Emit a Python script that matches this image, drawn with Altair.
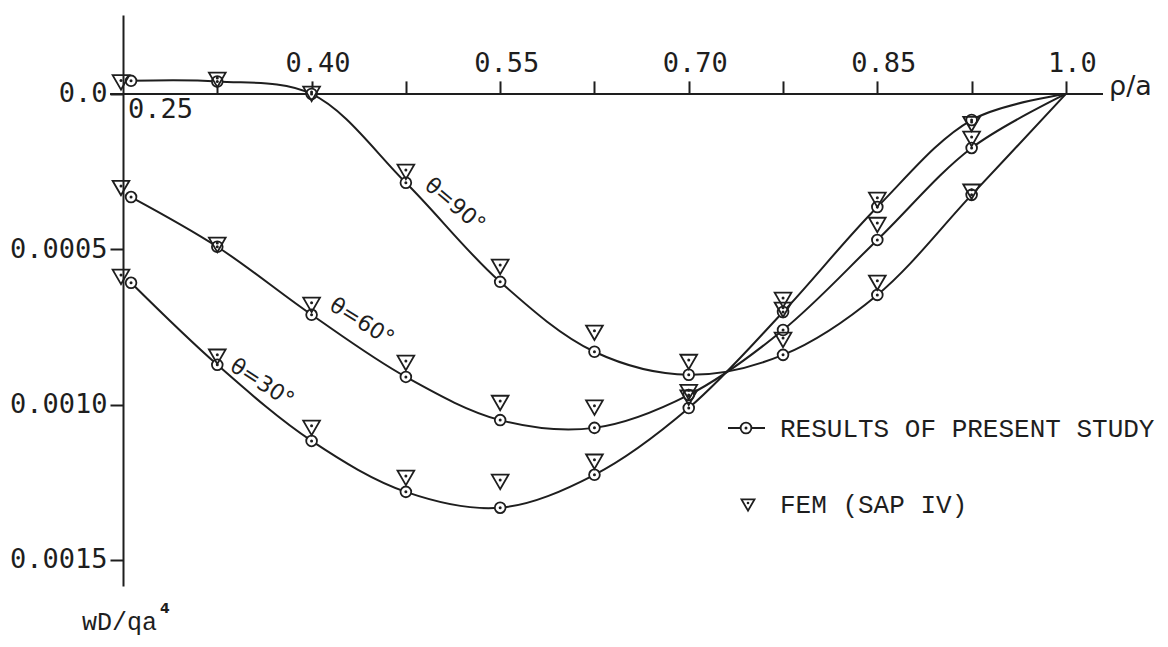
import altair as alt
import pandas as pd

INK = "#1e1e1e"

# ---------------- data ----------------
rho = [0.25, 0.325, 0.40, 0.475, 0.55, 0.625, 0.70, 0.775, 0.85, 0.925, 1.0]
present_30 = [0.000608, 0.000872, 0.001117, 0.001281, 0.001332, 0.001226, 0.001011, 0.000702, 0.000364, 0.000084, 0.0]
present_60 = [0.000332, 0.000492, 0.000711, 0.000911, 0.001050, 0.001075, 0.000969, 0.000760, 0.000470, 0.000174, 0.0]
present_90 = [-0.000042, -0.000040, 0.0, 0.000286, 0.000605, 0.000830, 0.000904, 0.000840, 0.000647, 0.000325, 0.0]

fem_rho = [0.25, 0.325, 0.40, 0.475, 0.55, 0.625, 0.70, 0.775, 0.85, 0.925]
fem_30 = [0.000589, 0.000846, 0.001075, 0.001236, 0.001249, 0.001184, 0.000978, 0.000663, 0.000341, 0.000097]
fem_60 = [0.000303, 0.000486, 0.000679, 0.000866, 0.000995, 0.001010, 0.000960, 0.000695, 0.000422, 0.000145]
fem_90 = [-0.000037, -0.000045, 0.0, 0.000251, 0.000557, 0.000769, 0.000863, 0.000792, 0.000608, 0.000315]

thetas = ["30", "60", "90"]
curve_labels = ["θ=30°", "θ=60°", "θ=90°"]
label_rho = [0.3606, 0.440, 0.514]
label_val = [0.000930, 0.000734, 0.000357]
label_angle = [33, 32, 40]

x_ticks = [0.325, 0.4, 0.475, 0.55, 0.625, 0.7, 0.775, 0.85, 0.925, 1.0]
x_labeled = [0.4, 0.55, 0.7, 0.85]
y_ticks = [0.0, 0.0005, 0.001, 0.0015]

x_axis_label = "ρ/a"
y_axis_label = "wD/qa"
y_axis_sup = "4"
legend_present = "RESULTS OF PRESENT STUDY"
legend_fem = "FEM (SAP IV)"

# ---------------- layout constants ----------------
X_DOMAIN = [0.25, 1.0295]
Y_DOMAIN = [-0.000254, 0.001584]
AXIS_LINE_LEFT = 0.2397
CIRCLE_FIRST_SHIFT = 0.0064   # first markers drawn displaced off the axis, as in the figure
TRI_FIRST_SHIFT = -0.0016
W, H = 980, 571
# pixel row of the zero line inside the plot area (where the rho axis sits)
ZERO_ROW = H * (0.0 - Y_DOMAIN[0]) / (Y_DOMAIN[1] - Y_DOMAIN[0])

# ---------------- tables ----------------
present = {"30": present_30, "60": present_60, "90": present_90}
fem = {"30": fem_30, "60": fem_60, "90": fem_90}

rows = []
for t in thetas:
    for i, (r, v) in enumerate(zip(rho, present[t])):
        rows.append({"rho": r + (CIRCLE_FIRST_SHIFT if i == 0 else 0.0), "val": v, "theta": t, "end": r == 1.0})
line_df = pd.DataFrame(rows)
circ_df = line_df[~line_df["end"]].copy()

trows = []
for t in thetas:
    for i, (r, v) in enumerate(zip(fem_rho, fem[t])):
        trows.append({"rho": r + (TRI_FIRST_SHIFT if i == 0 else 0.0), "val": v, "theta": t})
tri_df = pd.DataFrame(trows)

lab_df = pd.DataFrame({"rho": label_rho, "val": label_val, "text": curve_labels, "angle": label_angle})
axis_df = pd.DataFrame({"x1": [AXIS_LINE_LEFT], "x2": [X_DOMAIN[1]], "y": [0.0], "x0": [0.25]})
one = pd.DataFrame({"k": [0]})

# ---------------- scales / axes ----------------
xscale = alt.Scale(domain=X_DOMAIN, nice=False, zero=False)
yscale = alt.Scale(domain=Y_DOMAIN, nice=False, zero=False, reverse=True)

lab_list = ", ".join(str(v) for v in x_labeled)
x_label_expr = (
    "datum.value == 1 ? '1.0' : (indexof([" + lab_list + "], datum.value) >= 0 ? format(datum.value, '.2f') : '')"
)
xaxis = alt.Axis(
    orient="top", values=x_ticks, labelExpr=x_label_expr, offset=-ZERO_ROW,
    domain=False, grid=False, ticks=True, tickSize=13, tickWidth=2, tickColor=INK,
    labelFont="DejaVu Sans Mono", labelFontSize=27, labelColor=INK, labelPadding=3,
    labelOffset=6, labelOverlap=False, labelFlush=False, title=None,
)
yaxis = alt.Axis(
    orient="left", values=y_ticks,
    labelExpr="datum.value == 0 ? '0.0' : format(datum.value, '.4f')",
    domain=True, domainColor=INK, domainWidth=2, grid=False,
    tickSize=13, tickWidth=2, tickColor=INK,
    labelFont="DejaVu Sans Mono", labelFontSize=27, labelColor=INK, labelPadding=3,
    labelOverlap=False, labelFlush=False, title=None,
)


def X(f):
    return alt.X(f, type="quantitative", scale=xscale, axis=xaxis)


def Y(f):
    return alt.Y(f, type="quantitative", scale=yscale, axis=yaxis)


# ---------------- layers ----------------
x_line = alt.Chart(axis_df).mark_rule(color=INK, strokeWidth=2).encode(
    x=X("x1"), x2="x2:Q", y=Y("y")
)

curves = alt.Chart(line_df).mark_line(
    interpolate="catmull-rom", color=INK, strokeWidth=2
).encode(x=X("rho"), y=Y("val"), detail="theta:N", order="rho:Q")

circles = alt.Chart(circ_df).mark_point(
    shape="circle", size=115, filled=True, fill="white", stroke=INK, strokeWidth=1.8, opacity=1
).encode(x=X("rho"), y=Y("val"))

circle_dots = alt.Chart(circ_df).mark_point(
    shape="circle", size=9, filled=True, color=INK, opacity=1
).encode(x=X("rho"), y=Y("val"))

triangles = alt.Chart(tri_df).mark_point(
    shape="triangle-down", size=280, filled=False, stroke=INK, strokeWidth=1.8, opacity=1
).encode(x=X("rho"), y=Y("val"))

tri_dots = alt.Chart(tri_df).mark_point(
    shape="circle", size=9, filled=True, color=INK, opacity=1
).encode(x=X("rho"), y=Y("val"), yOffset=alt.value(-2))

curve_text = alt.Chart(lab_df).mark_text(
    font="DejaVu Sans", fontSize=22, color=INK, align="center", baseline="middle"
).encode(x=X("rho"), y=Y("val"), text="text:N", angle=alt.Angle("angle:Q", scale=None))

rho_label = alt.Chart(axis_df).mark_text(
    font="DejaVu Sans", fontSize=27, color=INK, align="left", baseline="alphabetic", dx=6, dy=1
).encode(x=X("x2"), y=Y("y"), text=alt.value(x_axis_label))

origin_label = alt.Chart(axis_df).mark_text(
    font="DejaVu Sans Mono", fontSize=27, color=INK, align="left", baseline="top", dx=5, dy=3
).encode(x=X("x0"), y=Y("y"), text=alt.value("0.25"))

# legend (pixel placement within the plot area)
leg_line = alt.Chart(one).mark_rule(color=INK, strokeWidth=2).encode(
    x=alt.value(605), x2=alt.value(642), y=alt.value(413)
)
leg_circle = alt.Chart(one).mark_point(
    shape="circle", size=115, filled=True, fill="white", stroke=INK, strokeWidth=1.8, opacity=1
).encode(x=alt.value(623), y=alt.value(413))
leg_circle_dot = alt.Chart(one).mark_point(
    shape="circle", size=9, filled=True, color=INK, opacity=1
).encode(x=alt.value(623), y=alt.value(413))
leg_tri = alt.Chart(one).mark_point(
    shape="triangle-down", size=170, filled=False, stroke=INK, strokeWidth=1.8, opacity=1
).encode(x=alt.value(625), y=alt.value(490))
leg_tri_dot = alt.Chart(one).mark_point(
    shape="circle", size=7, filled=True, color=INK, opacity=1
).encode(x=alt.value(625), y=alt.value(488))
leg_text1 = alt.Chart(one).mark_text(
    font="Liberation Mono", fontSize=26, color=INK, align="left", baseline="middle"
).encode(x=alt.value(657), y=alt.value(414), text=alt.value(legend_present))
leg_text2 = alt.Chart(one).mark_text(
    font="Liberation Mono", fontSize=26, color=INK, align="left", baseline="middle"
).encode(x=alt.value(657), y=alt.value(490), text=alt.value(legend_fem))

ytitle = alt.Chart(one).mark_text(
    font="Liberation Mono", fontSize=25, color=INK, align="left", baseline="alphabetic"
).encode(x=alt.value(-41), y=alt.value(615), text=alt.value(y_axis_label))
ytitle_sup = alt.Chart(one).mark_text(
    font="DejaVu Sans", fontSize=14, fontWeight="bold", color=INK, align="left", baseline="alphabetic"
).encode(x=alt.value(37), y=alt.value(598), text=alt.value(y_axis_sup))

chart = alt.layer(
    x_line, curves, circles, circle_dots, triangles, tri_dots, curve_text,
    rho_label, origin_label,
    leg_line, leg_circle, leg_circle_dot, leg_tri, leg_tri_dot, leg_text1, leg_text2,
    ytitle, ytitle_sup,
).properties(
    width=W, height=H,
    autosize=alt.AutoSizeParams(type="none"),
    padding={"left": 115, "top": 7, "right": 57, "bottom": 52},
    background="white",
).configure_view(stroke=None)

chart.save("out.html", embed_options={"renderer": "svg", "actions": False})
